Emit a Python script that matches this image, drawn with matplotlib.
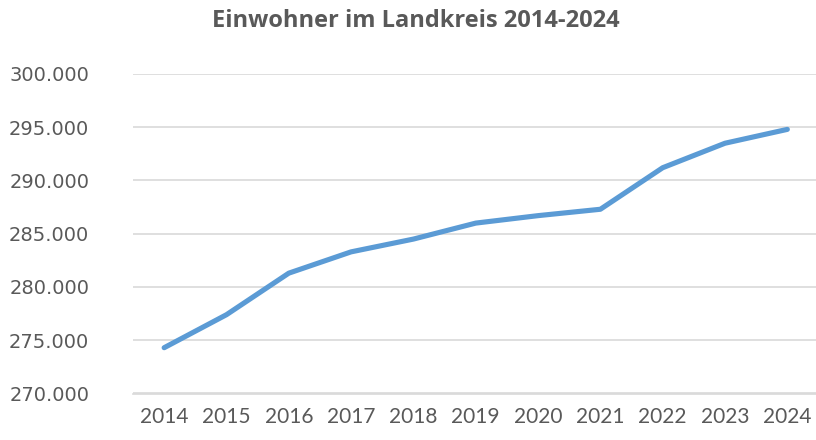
import matplotlib
matplotlib.use("Agg")
import matplotlib.pyplot as plt
from matplotlib import font_manager
from matplotlib.ticker import FuncFormatter

years = [2014, 2015, 2016, 2017, 2018, 2019, 2020, 2021, 2022, 2023, 2024]
einwohner = [274300, 277400, 281300, 283300, 284500, 286000, 286700, 287300, 291200, 293500, 294800]
y_ticks = [270000, 275000, 280000, 285000, 290000, 295000, 300000]

TITLE = "Einwohner im Landkreis 2014-2024"
LINE_COLOR = "#5B9BD5"
TEXT_COLOR = "#595959"
GRID_COLOR = "#D9D9D9"

installed = {f.name for f in font_manager.fontManager.ttflist}
narrow = "Liberation Sans Narrow" if "Liberation Sans Narrow" in installed else "Lato"


def de_thousands(v, _pos):
    return f"{int(v):,}".replace(",", ".")


fig = plt.figure(figsize=(8.16, 4.40), dpi=100)
ax = fig.add_axes([133 / 816, 1 - 393.5 / 440, 1 - 133 / 816, (393.5 - 74) / 440])

xs = list(range(len(years)))
ax.plot(xs, einwohner, color=LINE_COLOR, linewidth=3.7,
        solid_joinstyle="round", solid_capstyle="round", zorder=3)

ax.set_xlim(-0.5, 10.46)
ax.set_ylim(270000, 300000)
ax.set_yticks(y_ticks)
ax.yaxis.set_major_formatter(FuncFormatter(de_thousands))
ax.set_xticks(xs)
ax.set_xticklabels([str(y) for y in years])

ax.grid(axis="y", color=GRID_COLOR, linewidth=1.2)
ax.set_axisbelow(True)
for side in ["top", "right", "left"]:
    ax.spines[side].set_visible(False)
ax.spines["bottom"].set_color(GRID_COLOR)
ax.spines["bottom"].set_linewidth(1.2)

# pads are in points (1 pt = 1.39 px at dpi 100)
ax.tick_params(axis="both", length=0)
ax.tick_params(axis="y", pad=31.5, labelsize=14, labelcolor=TEXT_COLOR)
ax.tick_params(axis="x", pad=9.5, labelsize=15, labelcolor=TEXT_COLOR)
for lbl in ax.get_xticklabels():
    lbl.set_fontfamily(narrow)

fig.text(416 / 816, 1 - 21 / 440, TITLE, ha="center", va="center",
         fontsize=17, fontweight="bold", color=TEXT_COLOR, family="Open Sans")

fig.savefig("out.png", dpi=100)
